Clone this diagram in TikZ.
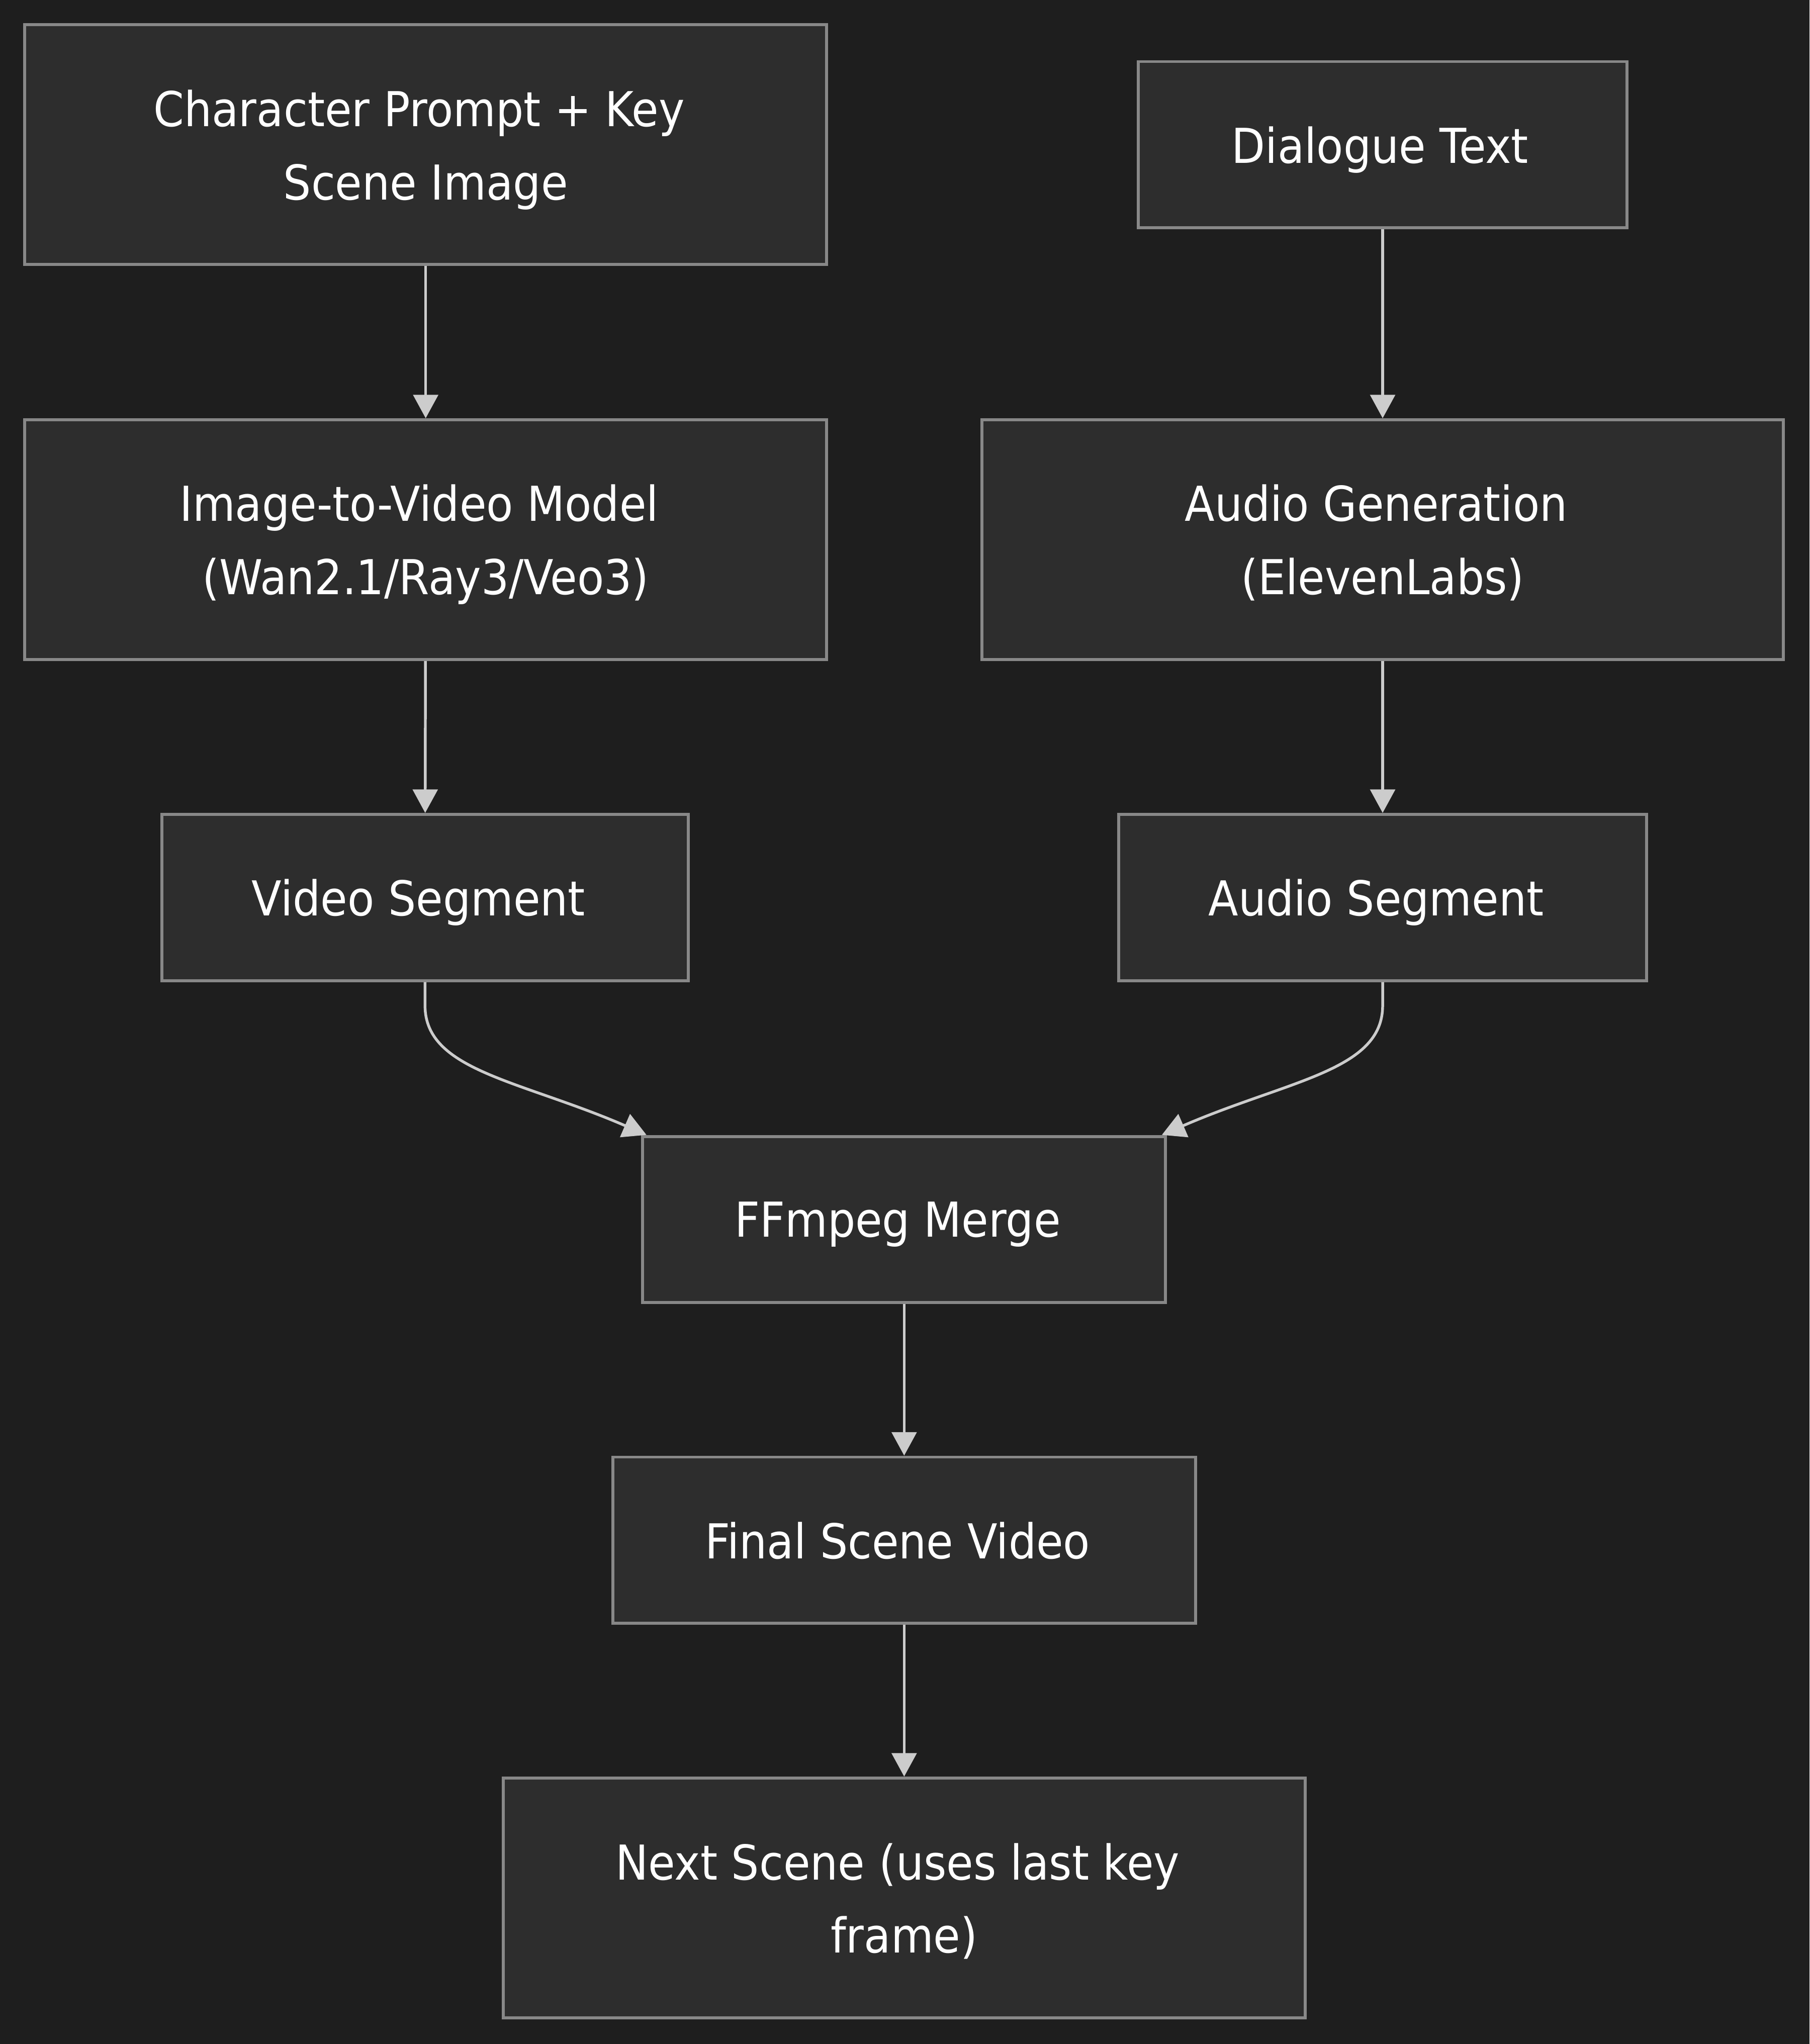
\documentclass[tikz,border=0pt]{standalone}
\usepackage{fontspec}
\setmainfont{DejaVu Sans}[FakeStretch=0.91]
\usepackage{xcolor}
\usepackage{tikz}
\usetikzlibrary{arrows.meta}
\definecolor{canvas}{HTML}{1E1E1E}
\definecolor{boxfill}{HTML}{2D2D2D}
\definecolor{boxline}{HTML}{888888}
\definecolor{flowline}{HTML}{CCCCCC}
\newcommand{\trail}{\kern0.2cm}
\tikzstyle{block}=[draw=boxline, fill=boxfill, line width=1.3pt, rectangle, align=center, text=white,
    font=\fontsize{21}{32}\selectfont, minimum height=2.55cm, inner sep=0pt, text depth=0pt]
\tikzstyle{tall}=[minimum height=3.68cm]
\tikzstyle{flow}=[draw=flowline, line width=1.2pt, -{Triangle[length=0.36cm, width=0.38cm]}]

\begin{document}
\begin{tikzpicture}
        \fill[canvas] (0,0) rectangle (27.76,-31.36);
        \useasboundingbox (0,0) rectangle (27.76,-31.36);
        \node[block, tall, minimum width=12.3cm] (charp) at (6.53,-2.22) {Character Prompt + Key\trail\\Scene Image};
        \node[block, minimum width=7.5cm] (dial) at (21.21,-2.22) {Dialogue Text\kern0.08cm};
        \node[block, tall, minimum width=12.3cm] (itv) at (6.53,-8.28) {Image-to-Video Model\trail\\(Wan2.1/Ray3/Veo3)};
        \node[block, tall, minimum width=12.3cm] (agen) at (21.21,-8.28) {Audio Generation\trail\\(ElevenLabs)};
        \node[block, minimum width=8.08cm] (vseg) at (6.52,-13.77) {Video Segment\trail};
        \node[block, minimum width=8.1cm] (aseg) at (21.21,-13.77) {Audio Segment\trail};
        \node[block, minimum width=8.02cm] (merge) at (13.87,-18.71) {FFmpeg Merge\trail};
        \node[block, minimum width=8.94cm] (final) at (13.87,-23.63) {Final Scene Video\trail};
        \node[block, tall, minimum width=12.3cm] (next) at (13.87,-29.12) {Next Scene (uses last key\trail\\frame)};
        \foreach \a/\b in {charp/itv, itv/vseg, dial/agen, agen/aseg, merge/final, final/next} {
             \draw[flow] (\a) -- (\b);
        }
        \coordinate (ml) at ([xshift=0.08cm]merge.north west);
        \coordinate (mr) at ([xshift=-0.08cm]merge.north east);
        \draw[flow] (vseg.south) -- ++(0,-0.36) .. controls ++(0,-1) and ([shift={(-1.94,0.84)}]ml) .. (ml);
        \draw[flow] (aseg.south) -- ++(0,-0.36) .. controls ++(0,-1) and ([shift={(1.94,0.84)}]mr) .. (mr);
    \end{tikzpicture}
\end{document}
